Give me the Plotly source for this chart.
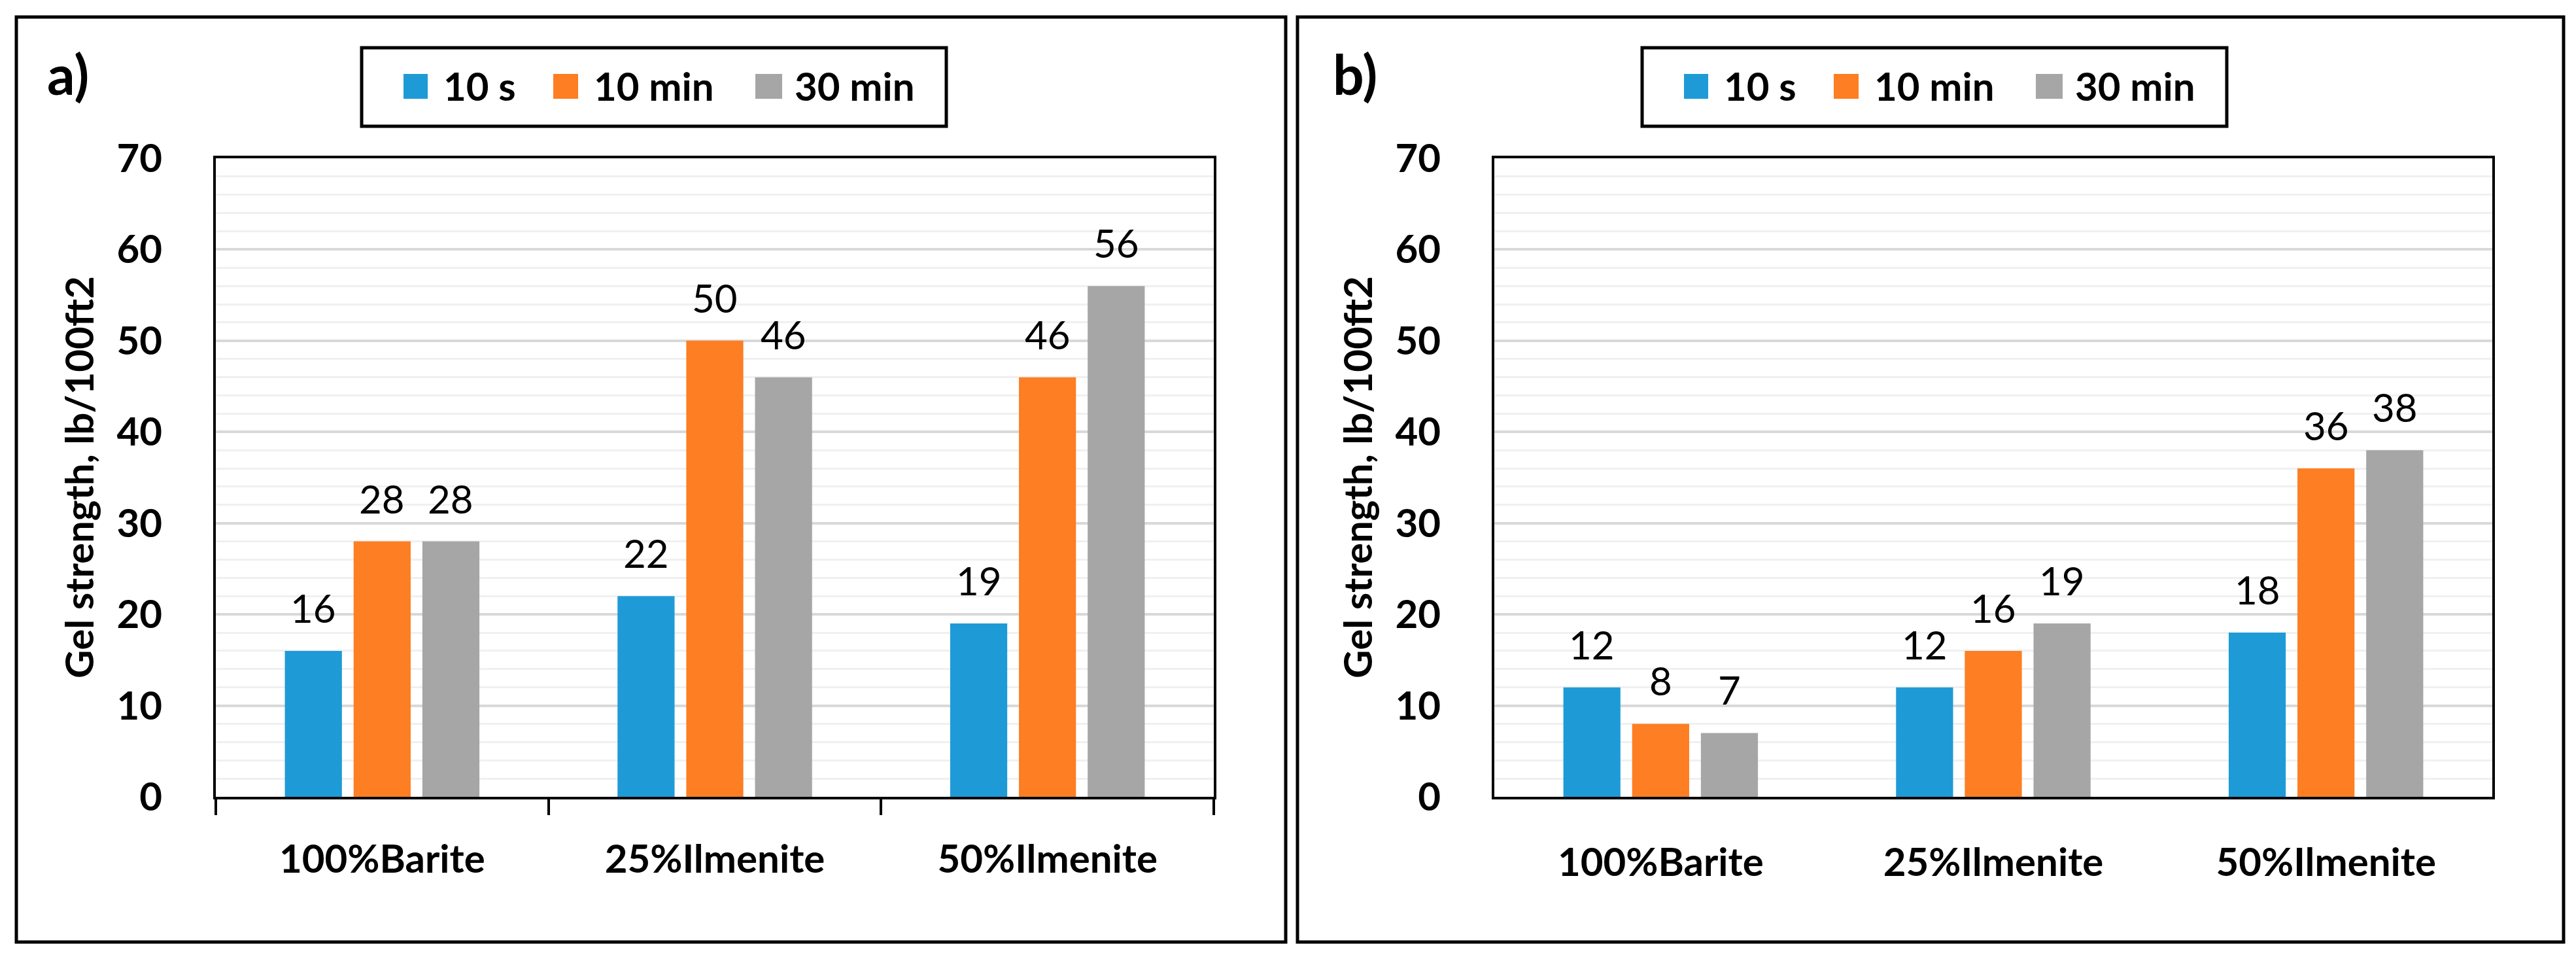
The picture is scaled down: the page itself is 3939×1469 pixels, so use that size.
import plotly.graph_objects as go

# ---------------- data ----------------
categories = ["100%Barite", "25%Ilmenite", "50%Ilmenite"]
series_names = ["10 s", "10 min", "30 min"]
panel_a_10s = [16, 22, 19]
panel_a_10min = [28, 50, 46]
panel_a_30min = [28, 46, 56]
panel_b_10s = [12, 12, 18]
panel_b_10min = [8, 16, 36]
panel_b_30min = [7, 19, 38]
panel_labels = ["a)", "b)"]
y_title = "Gel strength, lb/100ft2"
colors = ["#1E9BD7", "#FD7E23", "#A6A6A6"]

panels = [
    [panel_a_10s, panel_a_10min, panel_a_30min],
    [panel_b_10s, panel_b_10min, panel_b_30min],
]

# ---------------- layout geometry (pixels in the 3939x1469 page) ----------------
OFF = 8  # default body margin of the html page
W, H = 3939 - OFF, 1469 - OFF
FONT = "Lato"
def px(x):
    return (x - OFF) / W
def py(y):
    return 1 - (y - OFF) / H

dxs = [0, 1955]
plot_left, plot_right = 330, 1856
plot_top, plot_bottom = 242, 1218
BARGAP = 0.38
BARGROUPGAP = 0.17

fig = go.Figure()
shapes = []
annotations = []

for p, (series, dx) in enumerate(zip(panels, dxs)):
    xa = "x" if p == 0 else "x2"
    ya = "y" if p == 0 else "y2"
    for name, vals, col in zip(series_names, series, colors):
        fig.add_trace(go.Bar(
            x=categories, y=vals, name=name,
            marker=dict(color=col, line=dict(width=0)),
            xaxis=xa, yaxis=ya, showlegend=False,
        ))
    # value labels
    cat_px = (plot_right - plot_left) / 3
    slot = cat_px * (1 - BARGAP) / 3
    for i, vals in enumerate(series):
        for c, v in zip(categories, vals):
            annotations.append(dict(
                x=c, y=v, xref=xa, yref=ya, text=str(v), showarrow=False,
                xshift=(i - 1) * slot, yshift=28, yanchor="bottom",
                font=dict(family=FONT, size=60, color="black"),
            ))
    # outer frame
    fx0 = 25 + (0 if p == 0 else 1959)
    fx1 = 1966 + (0 if p == 0 else 1954)
    shapes.append(dict(type="rect", xref="paper", yref="paper",
                       x0=px(fx0), x1=px(fx1), y0=py(26), y1=py(1440),
                       line=dict(color="black", width=5), layer="above"))
    # legend box
    lx = 553 + (0 if p == 0 else 1958)
    shapes.append(dict(type="rect", xref="paper", yref="paper",
                       x0=px(lx), x1=px(lx + 894), y0=py(73), y1=py(193),
                       line=dict(color="black", width=5), layer="above"))
    sq_x = [617, 846, 1155]
    sq_w = [37, 38, 41]
    tx = [676, 906, 1213]
    for k in range(3):
        x0 = sq_x[k] + (lx - 553)
        shapes.append(dict(type="rect", xref="paper", yref="paper",
                           x0=px(x0), x1=px(x0 + sq_w[k]), y0=py(113), y1=py(151),
                           fillcolor=colors[k], line=dict(width=0)))
        annotations.append(dict(
            x=px(tx[k] + (lx - 553)), y=py(131), xref="paper", yref="paper",
            text="<b>%s</b>" % series_names[k], showarrow=False,
            xanchor="left", yanchor="middle",
            font=dict(family=FONT, size=60, color="black"),
        ))
    # panel label
    annotations.append(dict(
        x=px(70 + (0 if p == 0 else 1966)), y=py(112), xref="paper", yref="paper",
        text="<b>%s</b>" % panel_labels[p], showarrow=False,
        xanchor="left", yanchor="middle",
        font=dict(family=FONT, size=84, color="black"),
    ))
    # y title
    annotations.append(dict(
        x=px(120 + dx), y=py((plot_top + plot_bottom) / 2), xref="paper", yref="paper",
        text="<b>%s</b>" % y_title, showarrow=False, textangle=-90,
        xanchor="center", yanchor="middle",
        font=dict(family=FONT, size=60, color="black"),
    ))

def xaxis_cfg(p):
    dx = dxs[p]
    return dict(
        domain=[px(plot_left + dx), px(plot_right + dx)],
        type="category", showline=True, linecolor="black", linewidth=4, mirror=True,
        ticks="outside" if p == 0 else "", tickson="boundaries", ticklen=24,
        tickwidth=4, tickcolor="black",
        ticklabelstandoff=40 if p == 0 else 45,
        tickfont=dict(family=FONT, size=60, color="black", weight="bold"),
        showgrid=False, zeroline=False, fixedrange=True, automargin=False,
        anchor="y" if p == 0 else "y2",
    )

def yaxis_cfg(p):
    return dict(
        domain=[py(plot_bottom), py(plot_top)],
        range=[0, 70], dtick=10, tick0=0,
        showline=True, linecolor="black", linewidth=4, mirror=True,
        ticks="", ticklabelstandoff=66,
        tickfont=dict(family=FONT, size=60, color="black", weight="bold"),
        showgrid=True, gridcolor="#D9D9D9", gridwidth=4,
        minor=dict(dtick=2, showgrid=True, gridcolor="#F0F0F0", gridwidth=3),
        zeroline=False, fixedrange=True, automargin=False,
        anchor="x" if p == 0 else "x2",
    )

fig.update_layout(
    width=W, height=H, autosize=False,
    margin=dict(l=0, r=0, t=0, b=0, pad=0, autoexpand=False),
    paper_bgcolor="white", plot_bgcolor="white",
    barmode="group", bargap=BARGAP, bargroupgap=BARGROUPGAP,
    xaxis=xaxis_cfg(0), xaxis2=xaxis_cfg(1),
    yaxis=yaxis_cfg(0), yaxis2=yaxis_cfg(1),
    shapes=shapes, annotations=annotations,
    showlegend=False,
    font=dict(family=FONT, color="black"),
)

fig.write_html("out.html", config={"displayModeBar": False})
